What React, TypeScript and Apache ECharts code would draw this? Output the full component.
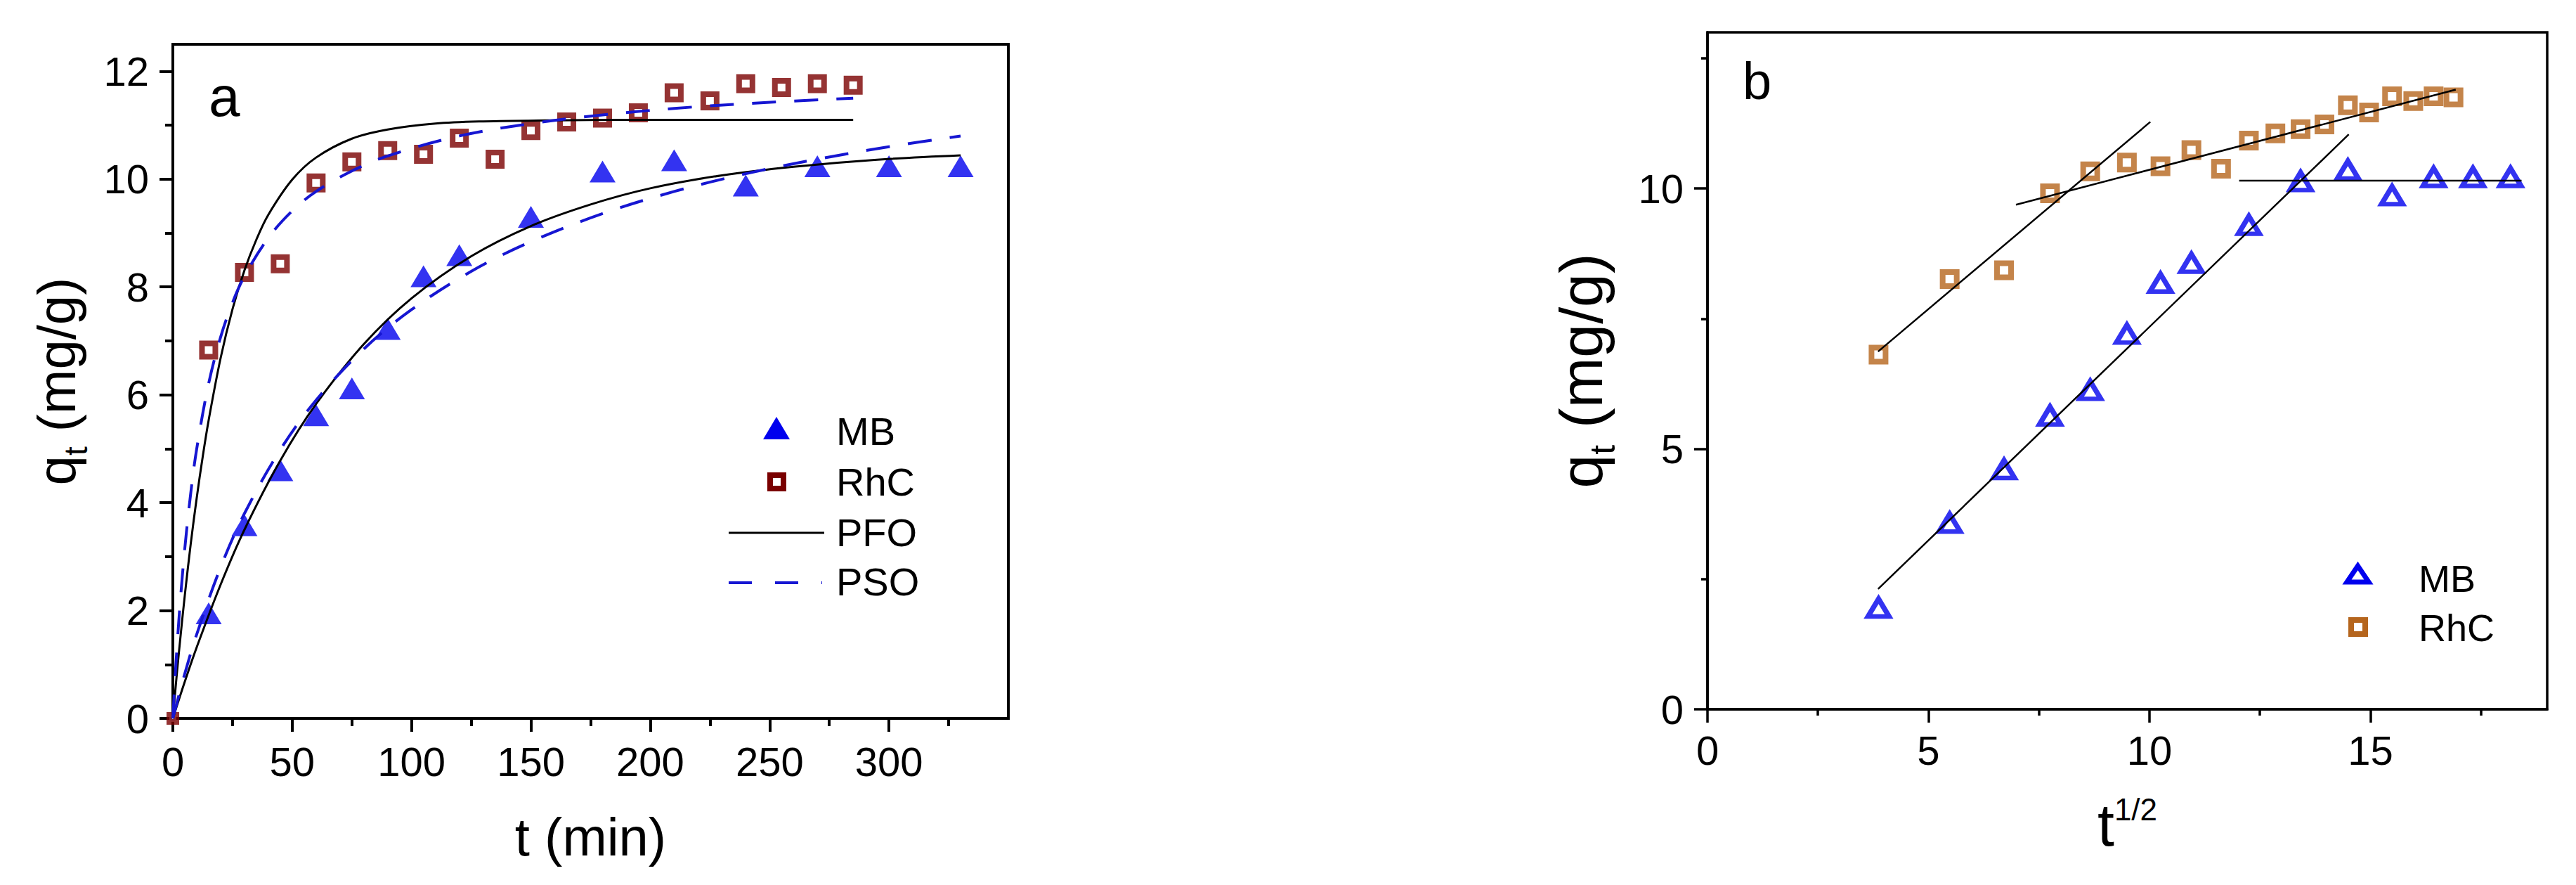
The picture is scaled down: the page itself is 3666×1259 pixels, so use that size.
import React, { useEffect, useRef } from "react";
import * as echarts from "echarts";

const FONT = "'Liberation Sans', Arial, Helvetica, sans-serif";

// ---------- Panel a: kinetics (t in min, q_t in mg/g) ----------
const timeMB = [0, 15, 30, 45, 60, 75, 90, 105, 120, 150, 180, 210, 240, 270, 300, 330];
const qMB = [0, 1.95, 3.58, 4.6, 5.62, 6.12, 7.22, 8.2, 8.59, 9.3, 10.14, 10.35, 9.88, 10.24, 10.24, 10.24];

const timeRhC = [0, 15, 30, 45, 60, 75, 90, 105, 120, 135, 150, 165, 180, 195, 210, 225, 240, 255, 270, 285];
const qRhC = [0, 6.83, 8.27, 8.43, 9.93, 10.32, 10.53, 10.46, 10.76, 10.37, 10.9, 11.06, 11.13, 11.23, 11.6, 11.45, 11.77, 11.7, 11.77, 11.74];

// PFO fitted curves
const pfoMB_t = [0, 5, 10, 20, 30, 45, 60, 80, 100, 125, 150, 175, 200, 230, 260, 295, 330];
const pfoMB_q = [0, 0.68, 1.32, 2.48, 3.5, 4.78, 5.83, 6.94, 7.79, 8.57, 9.13, 9.53, 9.83, 10.07, 10.23, 10.36, 10.44];
const pfoRhC_t = [0, 1, 2, 3, 5, 7.5, 10, 12.5, 15, 20, 25, 30, 35, 40, 50, 60, 75, 90, 110, 130, 160, 200, 285];
const pfoRhC_q = [0, 0.5, 0.98, 1.43, 2.28, 3.24, 4.09, 4.85, 5.53, 6.68, 7.59, 8.31, 8.88, 9.34, 9.99, 10.4, 10.75, 10.92, 11.03, 11.07, 11.09, 11.1, 11.1];

// PSO fitted curves
const psoMB_t = [0, 5, 10, 20, 30, 45, 60, 80, 100, 125, 150, 180, 210, 240, 270, 300, 330];
const psoMB_q = [0, 0.83, 1.56, 2.8, 3.8, 4.98, 5.9, 6.85, 7.58, 8.29, 8.84, 9.36, 9.77, 10.1, 10.37, 10.6, 10.8];
const psoRhC_t = [0, 1, 2, 3, 5, 7.5, 10, 15, 20, 25, 30, 40, 50, 60, 75, 90, 120, 150, 180, 210, 240, 285];
const psoRhC_q = [0, 0.8, 1.49, 2.11, 3.15, 4.18, 5.0, 6.21, 7.07, 7.71, 8.2, 8.91, 9.41, 9.77, 10.15, 10.43, 10.8, 11.03, 11.19, 11.31, 11.4, 11.5];

const ticksA_x = [0, 50, 100, 150, 200, 250, 300];
const ticksA_y = [0, 2, 4, 6, 8, 10, 12];

// ---------- Panel b: intraparticle diffusion (t^1/2) ----------
const sqrtTimeMB = [3.87, 5.48, 6.71, 7.75, 8.66, 9.49, 10.25, 10.95, 12.25, 13.42, 14.49, 15.49, 16.43, 17.32, 18.17];
const qMB_b = [1.95, 3.58, 4.61, 5.64, 6.13, 7.21, 8.19, 8.57, 9.3, 10.14, 10.36, 9.87, 10.22, 10.22, 10.22];
const sqrtTimeRhC = [3.87, 5.48, 6.71, 7.75, 8.66, 9.49, 10.25, 10.95, 11.62, 12.25, 12.85, 13.42, 13.96, 14.49, 14.97, 15.49, 15.97, 16.43, 16.88];
const qRhC_b = [6.81, 8.26, 8.43, 9.91, 10.33, 10.5, 10.43, 10.74, 10.38, 10.92, 11.06, 11.14, 11.23, 11.6, 11.46, 11.77, 11.68, 11.77, 11.75];

const fitRhC1_x = [3.86, 10.02];
const fitRhC1_q = [6.87, 11.28];
const fitRhC2_x = [6.98, 16.93];
const fitRhC2_q = [9.69, 11.9];
const fitMB1_x = [3.86, 14.51];
const fitMB1_q = [2.31, 11.04];
const fitMB2_x = [12.03, 18.42];
const fitMB2_q = [10.15, 10.15];

const ticksB_x = [0, 5, 10, 15];
const ticksB_y = [0, 5, 10];

const pairs = (xs: number[], ys: number[]) => xs.map((x, i) => [x, ys[i]]);
// Markers sitting exactly on the origin are mostly hidden behind the axes in the original
const markerData = (xs: number[], ys: number[], originSize: number) =>
  xs.map((x, i) => (x === 0 && ys[i] === 0 ? { value: [x, ys[i]], symbolSize: originSize } : [x, ys[i]]));

const BLUE = "#0000ee";
const DASH_BLUE = "#1616d2";
const MAROON = "#7a0000";
const BROWN = "#b5651d";

function valueAxis(o: any) {
  return {
    type: "value",
    gridIndex: o.gridIndex,
    min: 0,
    max: o.max,
    interval: o.interval,
    name: o.name,
    nameLocation: "middle",
    nameGap: o.nameGap,
    nameTextStyle: o.nameTextStyle,
    axisLine: { show: true, onZero: false, lineStyle: { color: "#000", width: o.lineWidth } },
    axisTick: {
      show: true,
      inside: false,
      length: o.tickLen,
      customValues: o.ticks,
      lineStyle: { color: "#000", width: o.lineWidth },
    },
    minorTick: {
      show: true,
      splitNumber: 2,
      length: o.minorLen,
      lineStyle: { color: "#000", width: o.lineWidth },
    },
    axisLabel: {
      show: true,
      margin: o.labelMargin,
      fontSize: o.labelSize,
      fontFamily: FONT,
      color: "#000",
      customValues: o.ticks,
      formatter: (v: number) => (o.ticks.includes(v) ? String(v) : ""),
    },
    splitLine: { show: false },
    minorSplitLine: { show: false },
  };
}

const richTitle = (size: number, subSize: number, subPad: number[]) => ({
  color: "#000",
  fontFamily: FONT,
  fontSize: size,
  rich: {
    a: { fontSize: size, fontFamily: FONT, color: "#000" },
    s: { fontSize: subSize, fontFamily: FONT, color: "#000", padding: subPad },
  },
});

function buildOption() {
  const lineA = (name: string, xs: number[], ys: number[], dashed: boolean) => ({
    type: "line",
    name,
    xAxisIndex: 0,
    yAxisIndex: 0,
    data: pairs(xs, ys),
    smooth: 0.35,
    symbol: "none",
    showSymbol: false,
    z: 4,
    lineStyle: dashed
      ? { color: DASH_BLUE, width: 4, type: [34, 26] }
      : { color: "#000", width: 3, type: "solid" },
  });
  const lineB = (name: string, xs: number[], ys: number[]) => ({
    type: "line",
    name,
    xAxisIndex: 1,
    yAxisIndex: 1,
    data: pairs(xs, ys),
    symbol: "none",
    showSymbol: false,
    z: 4,
    lineStyle: { color: "#000", width: 2.5 },
  });

  return {
    animation: false,
    backgroundColor: "#fff",
    grid: [
      { left: 246, top: 63, width: 1189, height: 959, show: true, borderColor: "#000", borderWidth: 4, backgroundColor: "transparent", containLabel: false, outerBoundsMode: "none" },
      { left: 2430, top: 46, width: 1195, height: 963, show: true, borderColor: "#000", borderWidth: 3.5, backgroundColor: "transparent", containLabel: false, outerBoundsMode: "none" },
    ],
    xAxis: [
      valueAxis({
        gridIndex: 0, max: 350, interval: 50, ticks: ticksA_x,
        name: "t (min)", nameGap: 130,
        nameTextStyle: { color: "#000", fontFamily: FONT, fontSize: 76 },
        lineWidth: 4, tickLen: 19, minorLen: 11, labelMargin: 32, labelSize: 58,
      }),
      valueAxis({
        gridIndex: 1, max: 19, interval: 5, ticks: ticksB_x,
        name: "{a|t}{s|1/2}", nameGap: 120,
        nameTextStyle: richTitle(86, 44, [0, 0, 44, 0]),
        lineWidth: 3.5, tickLen: 19, minorLen: 9, labelMargin: 29, labelSize: 58,
      }),
    ],
    yAxis: [
      valueAxis({
        gridIndex: 0, max: 12.5, interval: 2, ticks: ticksA_y,
        name: "{a|q}{s|t}{a| (mg/g)}", nameGap: 115,
        nameTextStyle: richTitle(76, 46, [56, 0, 0, 0]),
        lineWidth: 4, tickLen: 19, minorLen: 11, labelMargin: 34, labelSize: 58,
      }),
      valueAxis({
        gridIndex: 1, max: 13, interval: 5, ticks: ticksB_y,
        name: "{a|q}{s|t}{a| (mg/g)}", nameGap: 124,
        nameTextStyle: richTitle(86, 50, [62, 0, 0, 0]),
        lineWidth: 3.5, tickLen: 19, minorLen: 9, labelMargin: 34, labelSize: 58,
      }),
    ],
    series: [
      {
        type: "scatter", name: "MB", xAxisIndex: 0, yAxisIndex: 0,
        data: markerData(timeMB, qMB, 8), symbol: "triangle", symbolSize: [37, 31], z: 2,
        itemStyle: { color: BLUE },
      },
      {
        type: "scatter", name: "RhC", xAxisIndex: 0, yAxisIndex: 0,
        data: markerData(timeRhC, qRhC, 10), symbol: "rect", symbolSize: 19, z: 2,
        itemStyle: { color: "#fff", borderColor: MAROON, borderWidth: 8 },
      },
      lineA("PFO MB", pfoMB_t, pfoMB_q, false),
      lineA("PFO RhC", pfoRhC_t, pfoRhC_q, false),
      lineA("PSO MB", psoMB_t, psoMB_q, true),
      lineA("PSO RhC", psoRhC_t, psoRhC_q, true),
      {
        type: "scatter", name: "MB (b)", xAxisIndex: 1, yAxisIndex: 1,
        data: pairs(sqrtTimeMB, qMB_b), symbol: "triangle", symbolSize: [30, 25], z: 2,
        itemStyle: { color: "#fff", borderColor: BLUE, borderWidth: 7 },
      },
      {
        type: "scatter", name: "RhC (b)", xAxisIndex: 1, yAxisIndex: 1,
        data: pairs(sqrtTimeRhC, qRhC_b), symbol: "rect", symbolSize: 20, z: 2,
        itemStyle: { color: "#fff", borderColor: BROWN, borderWidth: 8 },
      },
      lineB("RhC stage 1", fitRhC1_x, fitRhC1_q),
      lineB("RhC stage 2", fitRhC2_x, fitRhC2_q),
      lineB("MB stage 1", fitMB1_x, fitMB1_q),
      lineB("MB stage 2", fitMB2_x, fitMB2_q),
    ],
    graphic: [
      // panel labels
      { type: "text", x: 297, y: 137, style: { text: "a", fontSize: 80, fontFamily: FONT, fill: "#000", align: "left", verticalAlign: "middle" } },
      { type: "text", x: 2480, y: 115, style: { text: "b", fontSize: 74, fontFamily: FONT, fill: "#000", align: "left", verticalAlign: "middle" } },
      // legend panel a
      { type: "polygon", shape: { points: [[1086, 625], [1124, 625], [1105, 593]] }, style: { fill: BLUE } },
      { type: "rect", shape: { x: 1096, y: 676, width: 19, height: 19 }, style: { fill: "#fff", stroke: MAROON, lineWidth: 8 } },
      { type: "line", shape: { x1: 1037, y1: 758, x2: 1173, y2: 758 }, style: { stroke: "#000", lineWidth: 3 } },
      { type: "line", shape: { x1: 1037, y1: 829, x2: 1170, y2: 829 }, style: { stroke: DASH_BLUE, lineWidth: 4, lineDash: [33, 33] } },
      { type: "text", x: 1190, y: 613, style: { text: "MB", fontSize: 56, fontFamily: FONT, fill: "#000", align: "left", verticalAlign: "middle" } },
      { type: "text", x: 1190, y: 685, style: { text: "RhC", fontSize: 56, fontFamily: FONT, fill: "#000", align: "left", verticalAlign: "middle" } },
      { type: "text", x: 1190, y: 757, style: { text: "PFO", fontSize: 56, fontFamily: FONT, fill: "#000", align: "left", verticalAlign: "middle" } },
      { type: "text", x: 1190, y: 827, style: { text: "PSO", fontSize: 56, fontFamily: FONT, fill: "#000", align: "left", verticalAlign: "middle" } },
      // legend panel b
      { type: "polygon", shape: { points: [[3340, 828], [3371, 828], [3355.5, 805]] }, style: { fill: "#fff", stroke: BLUE, lineWidth: 7 } },
      { type: "rect", shape: { x: 3346, y: 882, width: 20, height: 20 }, style: { fill: "#fff", stroke: BROWN, lineWidth: 8 } },
      { type: "text", x: 3442, y: 823, style: { text: "MB", fontSize: 54, fontFamily: FONT, fill: "#000", align: "left", verticalAlign: "middle" } },
      { type: "text", x: 3442, y: 893, style: { text: "RhC", fontSize: 54, fontFamily: FONT, fill: "#000", align: "left", verticalAlign: "middle" } },
    ],
  };
}

export default function App() {
  const ref = useRef<HTMLDivElement>(null);
  useEffect(() => {
    document.body.style.margin = "0";
    document.body.style.overflow = "hidden";
    const chart = echarts.init(ref.current!, null, { renderer: "svg" });
    chart.setOption(buildOption() as any);
    return () => chart.dispose();
  }, []);
  return <div ref={ref} style={{ width: 3666, height: 1259, background: "#fff" }} />;
}
